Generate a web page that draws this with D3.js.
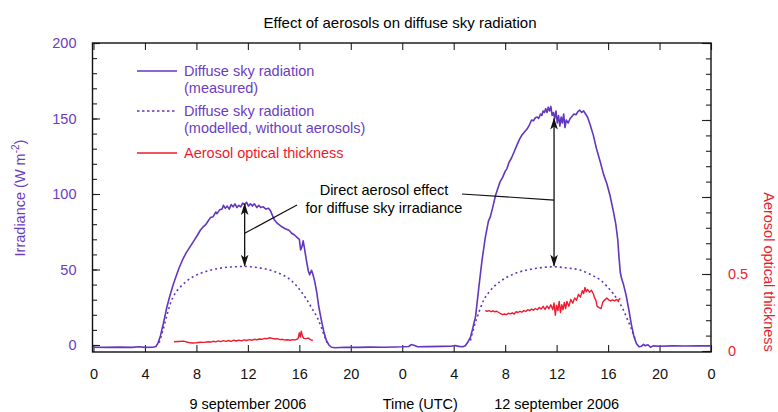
<!DOCTYPE html>
<html>
<head>
<meta charset="utf-8">
<script src="https://cdn.jsdelivr.net/npm/d3@7"></script>
<style>
  body { margin: 0; background: #fff; }
  svg { display: block; font-family: "Liberation Sans", Arial, sans-serif; }
</style>
</head>
<body>
<div id="chart"></div>
<script>
//=====================================================================
// Data (hours since 0 UTC on 9 september 2006)
//=====================================================================
// measured diffuse sky radiation, W m-2
var measured = [
  [0,-1.5],[1,-1.6],[2,-1.4],[3,-1.6],[3.5,-1.2],[4,-1.6],[4.6,-1.5],[4.85,-1.0],
  [5.0,1],[5.2,6],[5.45,15],[5.7,25],[5.95,33],[6.2,40],[6.4,45],[6.65,51],[6.9,56],
  [7.2,61],[7.5,65],[7.8,69],[8.1,73],[8.3,76],[8.5,78],[8.7,79.5],[8.9,82],[9.1,84.5],
  [9.3,85],[9.5,88],[9.6,87],[9.8,89.5],[10.0,90],[10.1,92.5],[10.25,90.5],[10.4,92],
  [10.55,90],[10.7,93],[10.85,91.5],[11.0,93.5],[11.15,91],[11.3,92.5],[11.45,91.5],
  [11.6,94],[11.75,93],[11.9,94.5],[12.05,92],[12.2,93.5],[12.35,92],[12.5,93.5],
  [12.7,91],[12.85,92.5],[13.0,91],[13.2,91.5],[13.4,90],[13.6,90.5],[13.75,89],
  [13.9,86],[14.05,83],[14.3,80.5],[14.6,78.5],[14.9,77],[15.2,76],[15.4,74],[15.6,73],
  [15.8,71.5],[16.0,70],[16.1,63],[16.2,65],[16.3,69],[16.4,64],[16.55,56],[16.7,49],
  [16.8,46.5],[16.95,49.5],[17.05,47],[17.2,42],[17.35,35],[17.5,26],[17.7,17],
  [17.9,9],[18.1,3],[18.3,0],[18.5,-1.5],[18.8,-1.8],[19.5,-1.5],[20.5,-1.6],
  [21.5,-1.4],[22.5,-1.5],[23.5,-1.3],
  [24,-1.2],[24.5,-1.0],[24.7,0.3],[24.9,-0.2],[25.2,-1.2],[26,-1.1],[27,-0.9],
  [27.8,-0.8],[28.1,-0.3],[28.4,-0.9],[28.7,-1.2],[28.9,-0.5],[29.1,2],[29.3,5],
  [29.45,10],[29.7,19],[29.95,38],[30.2,56],[30.45,71],[30.7,82],[30.85,85],[31.0,90],
  [31.25,99],[31.4,103],[31.6,108],[31.8,111],[32.0,115],[32.15,117],[32.3,121],
  [32.5,124],[32.7,128],[32.9,132],[33.1,136],[33.3,139],[33.5,141],[33.7,143],
  [33.9,146],[34.05,149],[34.2,148.5],[34.35,150.5],[34.5,151],[34.6,150],[34.75,153],
  [34.85,152],[34.95,155],[35.05,154],[35.15,156.5],[35.25,154],[35.35,157.5],
  [35.45,155],[35.55,158],[35.65,152],[35.75,154],[35.85,150],[35.95,155],[36.05,147],
  [36.15,152],[36.25,145],[36.35,151],[36.45,147],[36.55,153],[36.65,144],[36.75,149],
  [36.9,147],[37.05,150],[37.2,151.5],[37.35,153],[37.5,152.5],[37.65,154.5],
  [37.8,155.5],[37.95,154],[38.1,155],[38.25,153],[38.4,151],[38.6,146],[38.85,139],
  [39.1,130],[39.4,121],[39.65,113],[39.9,107],[40.15,99],[40.4,89],[40.6,80],
  [40.75,70],[40.85,58],[40.95,48],[41.05,44],[41.2,40],[41.4,33],[41.6,24],
  [41.8,14],[42.0,6],[42.2,1],[42.4,-1.2],[42.6,-0.8],[42.75,0.4],[42.9,-0.5],
  [43.1,0.2],[43.3,-1.5],[43.5,-0.6],[44,-0.8],[45,-0.6],[46,-0.7],[47,-0.5],[48,-0.6]
];

// modelled diffuse sky radiation without aerosols, W m-2
var modelled1 = [
  [5.1,1.5],[5.3,7],[5.5,13],[5.75,21],[6.0,28],[6.3,33.5],[6.7,38],[7.2,42],[7.8,45.5],
  [8.5,48],[9.3,50],[10.2,51.3],[11.0,51.8],[11.7,52],[12.5,51.5],[13.3,50.5],
  [14.1,48.5],[14.8,46],[15.4,42.5],[16.0,37],[16.5,31],[17.0,24],[17.4,18],
  [17.7,12],[17.95,6],[18.15,1.5]
];
var modelled2 = [
  [29.3,3],[29.45,8],[29.65,14],[29.85,19],[30.1,25],[30.35,30],[30.7,34.5],[31.1,38.5],
  [31.6,42],[32.2,45.2],[32.9,47.8],[33.7,49.7],[34.6,51],[35.8,51.8],[36.8,51],
  [37.8,49.7],[38.6,46.8],[39.4,43],[39.9,39],[40.4,34],[40.8,29],[41.2,23],[41.5,17],
  [41.75,12],[42.0,6.5],[42.15,2.5]
];

// aerosol optical thickness (right axis)
var aot1 = [
  [6.25,0.060],[6.6,0.062],[7.0,0.064],[7.4,0.055],[7.7,0.052],[8.0,0.054],[8.3,0.057],
  [8.6,0.056],[8.9,0.060],[9.1,0.058],[9.3,0.063],[9.5,0.059],[9.7,0.066],[9.9,0.061],
  [10.1,0.067],[10.3,0.062],[10.5,0.068],[10.7,0.063],[10.9,0.070],[11.1,0.065],
  [11.3,0.071],[11.5,0.066],[11.7,0.072],[11.9,0.068],[12.1,0.074],[12.3,0.070],
  [12.5,0.076],[12.7,0.073],[12.9,0.078],[13.1,0.076],[13.3,0.082],[13.5,0.080],
  [13.7,0.086],[13.9,0.082],[14.1,0.078],[14.3,0.080],[14.5,0.074],[14.7,0.076],
  [14.9,0.071],[15.1,0.073],[15.3,0.070],[15.5,0.074],[15.7,0.072],[15.9,0.080],
  [16.0,0.118],[16.07,0.090],[16.15,0.128],[16.25,0.094],[16.35,0.082],[16.5,0.080],
  [16.7,0.084],[16.9,0.072],[17.05,0.068]
];
var aot2 = [
  [30.45,0.262],[30.6,0.258],[30.75,0.262],[30.9,0.256],[31.05,0.260],[31.2,0.255],
  [31.35,0.258],[31.5,0.250],[31.65,0.242],[31.8,0.236],[31.95,0.240],[32.1,0.236],
  [32.25,0.245],[32.4,0.241],[32.55,0.248],[32.7,0.240],[32.85,0.255],[33.0,0.250],
  [33.15,0.258],[33.3,0.252],[33.45,0.262],[33.6,0.257],[33.75,0.268],[33.9,0.262],
  [34.05,0.272],[34.2,0.265],[34.35,0.276],[34.5,0.268],[34.65,0.282],[34.8,0.272],
  [34.95,0.290],[35.1,0.270],[35.25,0.292],[35.4,0.275],[35.55,0.300],[35.7,0.268],
  [35.8,0.312],[35.9,0.232],[36.0,0.298],[36.1,0.262],[36.2,0.322],[36.3,0.250],
  [36.4,0.300],[36.5,0.268],[36.6,0.315],[36.7,0.275],[36.8,0.322],[36.95,0.290],
  [37.1,0.335],[37.25,0.310],[37.4,0.345],[37.55,0.330],[37.7,0.368],[37.85,0.350],
  [38.0,0.392],[38.1,0.372],[38.2,0.412],[38.3,0.385],[38.4,0.400],[38.55,0.382],
  [38.7,0.395],[38.85,0.372],[38.95,0.345],[39.05,0.330],[39.15,0.290],[39.3,0.282],
  [39.45,0.275],[39.6,0.320],[39.75,0.332],[39.9,0.344],[40.05,0.332],[40.2,0.325],
  [40.35,0.332],[40.5,0.326],[40.65,0.334],[40.8,0.328],[40.95,0.342]
];

// ticks
var xTicks = [0,4,8,12,16,20,24,28,32,36,40,44,48];
var leftMajor = [0,50,100,150,200];
var leftMinor = [0,10,20,30,40,50,60,70,80,90,100,110,120,130,140,150,160,170,180,190,200];
var rightMajor = [0,0.5,1,1.5,2];
var rightLabels = [0,0.5];
var rightMinor = [0,0.1,0.2,0.3,0.4,0.5,0.6,0.7,0.8,0.9,1,1.1,1.2,1.3,1.4,1.5,1.6,1.7,1.8,1.9,2];

// direct aerosol effect arrows: [time, top, bottom, leader end]
var effectArrows = [[11.75,93.4,52.5,74],[35.8,150,52.5,96]];

var purple = "#6236bf", purpleText = "#6a3dc2", red = "#ee1c2e";

//=====================================================================
// Chart
//=====================================================================
var width = 778, height = 412;
var x = d3.scaleLinear().domain([0,48]).range([93.5,711]);
var yL = d3.scaleLinear().domain([0,200]).range([345,43]);
var yR = d3.scaleLinear().domain([0,2]).range([351,43]);
var frame = { left: 92.5, right: 711, top: 43, bottom: 352 };

var svg = d3.select("#chart").append("svg")
  .attr("width", width)
  .attr("height", height);

// title
svg.append("text")
  .attr("x", 400).attr("y", 28)
  .attr("text-anchor", "middle")
  .style("font-size", "15px")
  .text("Effect of aerosols on diffuse sky radiation");

// axes
function styleAxis(g, color) {
  g.select(".domain").remove();
  g.selectAll("line").attr("stroke", "#222").attr("stroke-width", 1.1);
  g.selectAll("text").attr("fill", color).style("font-size", "14.5px")
    .style("font-family", "Liberation Sans, Arial, sans-serif");
}

svg.append("g").attr("transform", "translate(" + frame.left + ",0)")
  .call(d3.axisLeft(yL).tickValues(leftMinor).tickSize(-4.5).tickFormat(""))
  .call(styleAxis, purpleText);
svg.append("g").attr("transform", "translate(" + frame.left + ",0)")
  .call(d3.axisLeft(yL).tickValues(leftMajor).tickSize(-7.5).tickPadding(16))
  .call(styleAxis, purpleText);

svg.append("g").attr("transform", "translate(" + frame.right + ",0)")
  .call(d3.axisRight(yR).tickValues(rightMinor).tickSize(-5).tickFormat(""))
  .call(styleAxis, red);
svg.append("g").attr("transform", "translate(" + frame.right + ",0)")
  .call(d3.axisRight(yR).tickValues(rightMajor).tickSize(-9).tickPadding(17)
    .tickFormat(function (d) { return rightLabels.indexOf(d) >= 0 ? d : ""; }))
  .call(styleAxis, red);

svg.append("g").attr("transform", "translate(0," + frame.bottom + ")")
  .call(d3.axisBottom(x).tickValues(xTicks).tickSize(-7).tickPadding(17)
    .tickFormat(function (d) { return d % 24 === 0 ? 0 : d % 24; }))
  .call(styleAxis, "#111");
svg.append("g").attr("transform", "translate(0," + frame.top + ")")
  .call(d3.axisTop(x).tickValues(xTicks).tickSize(-7).tickFormat(""))
  .call(styleAxis, "#111");

// frame
svg.append("rect")
  .attr("x", frame.left).attr("y", frame.top)
  .attr("width", frame.right - frame.left).attr("height", frame.bottom - frame.top)
  .attr("fill", "none").attr("stroke", "#111").attr("stroke-width", 1.4);

// axis titles
var yTitle = svg.append("text")
  .attr("transform", "translate(25,198) rotate(-90)")
  .attr("text-anchor", "middle")
  .attr("fill", purpleText)
  .style("font-size", "14.5px");
yTitle.append("tspan").text("Irradiance (W m");
yTitle.append("tspan").attr("dy", -6).style("font-size", "10px").text("-2");
yTitle.append("tspan").attr("dy", 6).text(")");

svg.append("text")
  .attr("transform", "translate(764,272) rotate(90)")
  .attr("text-anchor", "middle")
  .attr("fill", red)
  .style("font-size", "14.5px")
  .text("Aerosol optical thickness");

// day labels
svg.append("text").attr("x", x(12)).attr("y", 409).attr("text-anchor", "middle")
  .style("font-size", "14.5px").text("9 september 2006");
svg.append("text").attr("x", x(25.4)).attr("y", 409).attr("text-anchor", "middle")
  .style("font-size", "14.5px").text("Time (UTC)");
svg.append("text").attr("x", x(36)).attr("y", 409).attr("text-anchor", "middle")
  .style("font-size", "14.5px").text("12 september 2006");

// lines
var lineL = d3.line()
  .x(function (d) { return x(d[0]); })
  .y(function (d) { return yL(d[1]); });
var smoothL = d3.line()
  .x(function (d) { return x(d[0]); })
  .y(function (d) { return yL(d[1]); })
  .curve(d3.curveMonotoneX);
var lineR = d3.line()
  .x(function (d) { return x(d[0]); })
  .y(function (d) { return yR(d[1]); });

[modelled1, modelled2].forEach(function (s) {
  svg.append("path").datum(s)
    .attr("d", smoothL)
    .attr("fill", "none").attr("stroke", purple)
    .attr("stroke-width", 1.6).attr("stroke-dasharray", "2,3");
});

[aot1, aot2].forEach(function (s) {
  svg.append("path").datum(s)
    .attr("d", lineR)
    .attr("fill", "none").attr("stroke", red)
    .attr("stroke-width", 1.4).attr("stroke-linejoin", "round");
});

svg.append("path").datum(measured)
  .attr("d", lineL)
  .attr("fill", "none").attr("stroke", purple)
  .attr("stroke-width", 1.6).attr("stroke-linejoin", "round");

// arrows
svg.append("defs").append("marker")
  .attr("id", "head")
  .attr("viewBox", "0 -5 12 10")
  .attr("refX", 11).attr("refY", 0)
  .attr("markerUnits", "userSpaceOnUse")
  .attr("markerWidth", 12).attr("markerHeight", 10)
  .attr("orient", "auto-start-reverse")
  .append("path")
  .attr("d", "M0,-3.8L12,0L0,3.8L3,0Z")
  .attr("fill", "#111");

var labelEnds = [[297, 205], [462, 194]];
effectArrows.forEach(function (a, i) {
  svg.append("line")
    .attr("x1", x(a[0])).attr("x2", x(a[0]))
    .attr("y1", yL(a[2])).attr("y2", yL(a[1]))
    .attr("stroke", "#111").attr("stroke-width", 1.3)
    .attr("marker-start", "url(#head)").attr("marker-end", "url(#head)");
  svg.append("line")
    .attr("x1", labelEnds[i][0]).attr("y1", labelEnds[i][1])
    .attr("x2", x(a[0])).attr("y2", yL(a[3]))
    .attr("stroke", "#111").attr("stroke-width", 1.2);
});

svg.append("text").attr("x", 384).attr("y", 195).attr("text-anchor", "middle")
  .style("font-size", "14.5px").text("Direct aerosol effect");
svg.append("text").attr("x", 384).attr("y", 213).attr("text-anchor", "middle")
  .style("font-size", "14.5px").text("for diffuse sky irradiance");

// legend
var legendItems = [
  { lines: ["Diffuse sky radiation", "(measured)"], color: purple, text: purpleText, dash: null, y: 71 },
  { lines: ["Diffuse sky radiation", "(modelled, without aerosols)"], color: purple, text: purpleText, dash: "2.5,2.5", y: 111 },
  { lines: ["Aerosol optical thickness"], color: red, text: red, dash: null, y: 153 }
];
var legend = svg.append("g");
legendItems.forEach(function (d) {
  legend.append("line")
    .attr("x1", 137).attr("x2", 177).attr("y1", d.y).attr("y2", d.y)
    .attr("stroke", d.color).attr("stroke-width", 1.5)
    .attr("stroke-dasharray", d.dash);
  d.lines.forEach(function (t, j) {
    legend.append("text")
      .attr("x", 184).attr("y", d.y + 5 + j * 17)
      .attr("fill", d.text)
      .style("font-size", "14.5px")
      .text(t);
  });
});
</script>
</body>
</html>
